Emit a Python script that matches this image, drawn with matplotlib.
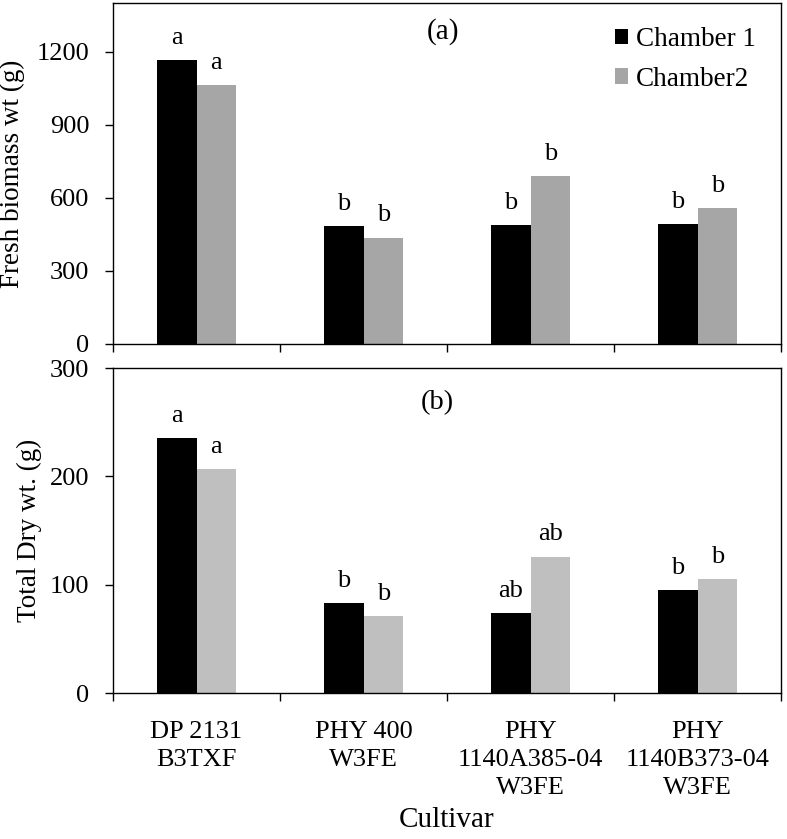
import numpy as np
import matplotlib
matplotlib.use("Agg")
import matplotlib.pyplot as plt

plt.rcParams["font.family"] = ["Liberation Serif", "DejaVu Serif"]

cultivars = ["DP 2131\nB3TXF", "PHY 400\nW3FE", "PHY\n1140A385-04\nW3FE", "PHY\n1140B373-04\nW3FE"]
series = ["Chamber 1", "Chamber2"]

fresh_ch1 = [1167, 486, 489, 493]
fresh_ch2 = [1064, 437, 690, 559]
fresh_letters_ch1 = ["a", "b", "b", "b"]
fresh_letters_ch2 = ["a", "b", "b", "b"]

dry_ch1 = [235, 83, 74, 95]
dry_ch2 = [207, 71, 126, 105]
dry_letters_ch1 = ["a", "b", "ab", "b"]
dry_letters_ch2 = ["a", "b", "ab", "b"]

W, H = 787, 839
fig = plt.figure(figsize=(W / 100, H / 100), dpi=100)
left, right = 113 / W, 781 / W
ax1 = fig.add_axes([left, 1 - 344 / H, right - left, (344 - 3) / H])
ax2 = fig.add_axes([left, 1 - 693 / H, right - left, (693 - 368) / H])

x = np.arange(len(cultivars))
bw = 0.237


def draw(ax, v1, v2, l1, l2, c2, ymax, yticks):
    ax.bar(x - bw / 2, v1, bw, color="black", label=series[0])
    ax.bar(x + bw / 2, v2, bw, color=c2, label=series[1])
    for xi, v, t in zip(x - bw / 2, v1, l1):
        ax.annotate(t, (xi, v), xytext=(0, 8), textcoords="offset points",
                    ha="center", va="bottom", fontsize=19)
    for xi, v, t in zip(x + bw / 2, v2, l2):
        ax.annotate(t, (xi, v), xytext=(0, 8), textcoords="offset points",
                    ha="center", va="bottom", fontsize=19)
    ax.set_xlim(-0.5, len(cultivars) - 0.5)
    ax.set_ylim(0, ymax)
    ax.set_yticks(yticks)
    # ticks sit between the cultivar groups, labels go in the middle
    ax.set_xticks(np.arange(-0.5, len(cultivars)))
    ax.set_xticks(x, minor=True)
    ax.tick_params(axis="x", which="major", direction="out", length=6, width=1, labelbottom=False)
    ax.tick_params(axis="x", which="minor", length=0)
    ax.tick_params(axis="y", direction="out", length=6, width=1, labelsize=19, pad=11)
    for s in ax.spines.values():
        s.set_linewidth(1)


draw(ax1, fresh_ch1, fresh_ch2, fresh_letters_ch1, fresh_letters_ch2, "#a6a6a6",
     1400, [0, 300, 600, 900, 1200])
ax1.set_ylabel("Fresh biomass wt (g)", fontsize=19.5)
ax1.yaxis.set_label_coords(-0.132, 0.5)
ax1.text(0.494, 0.915, "(a)", transform=ax1.transAxes, ha="center", va="center", fontsize=21)
ax1.legend(loc="upper left", bbox_to_anchor=(0.751, 0.93), frameon=False, fontsize=19.5,
           handlelength=0.5, handleheight=0.5, handletextpad=0.3, labelspacing=0.55,
           borderpad=0, borderaxespad=0)

draw(ax2, dry_ch1, dry_ch2, dry_letters_ch1, dry_letters_ch2, "#bfbfbf",
     300, [0, 100, 200, 300])
ax2.set_ylabel("Total Dry wt. (g)", fontsize=19.5)
ax2.yaxis.set_label_coords(-0.106, 0.5)
ax2.text(0.485, 0.892, "(b)", transform=ax2.transAxes, ha="center", va="center", fontsize=20.5)
ax2.set_xticklabels(cultivars, minor=True, fontsize=19, linespacing=1.35)
ax2.tick_params(axis="x", which="minor", labelbottom=True, pad=20)
ax2.set_xlabel("Cultivar", fontsize=21, labelpad=6)

fig.savefig("out.png", dpi=100)
